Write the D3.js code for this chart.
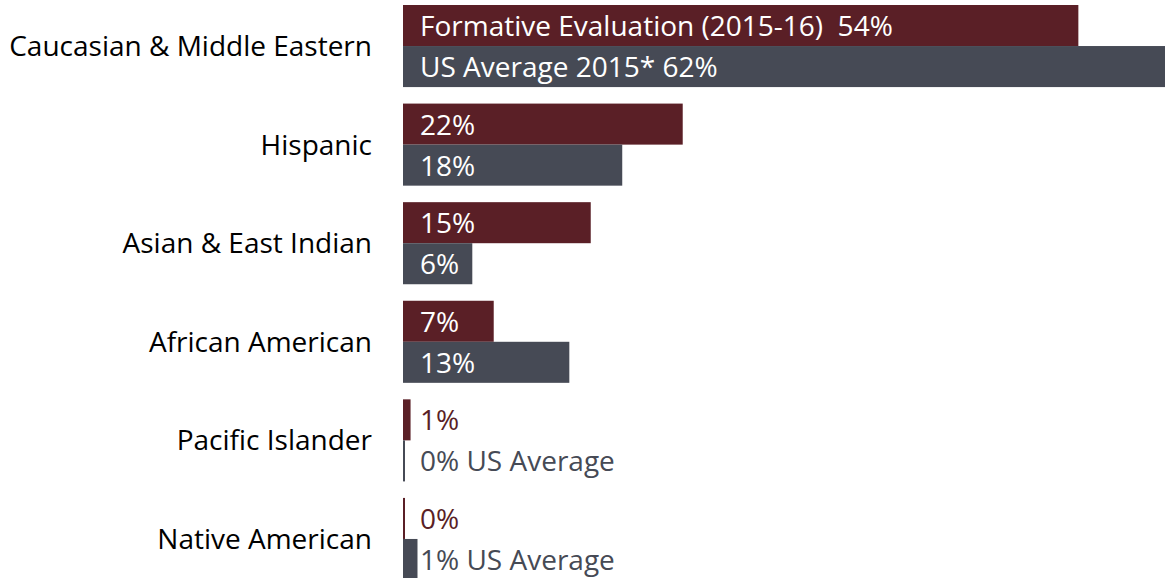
<!DOCTYPE html>
<html>
<head>
<meta charset="utf-8">
<script src="https://cdn.jsdelivr.net/npm/d3@7"></script>
<style>
  body { margin: 0; background: #fff; }
  svg { display: block; font-family: "Open Sans", sans-serif; }
  text { white-space: pre; }
</style>
</head>
<body>
<script>
var categories = ["Caucasian & Middle Eastern", "Hispanic", "Asian & East Indian",
                  "African American", "Pacific Islander", "Native American"];
var seriesNames = ["formative", "usAverage"];

// bar values in percent
var formative = [53.6, 22.2, 14.9, 7.2, 0.6, 0];
var usAverage = [62.0, 17.4, 5.5, 13.2, 0, 1.15];

// labels as printed on the chart
var formativeLabels = ["Formative Evaluation (2015-16)  54%", "22%", "15%", "7%", "1%", "0%"];
var usAverageLabels = ["US Average 2015* 62%", "18%", "6%", "13%", "0% US Average", "1% US Average"];

var colors = { formative: "#5a1f26", usAverage: "#464a55" };

var width = 1165, height = 578;

var svg = d3.select("body")
            .append("svg")
            .attr("width", width)
            .attr("height", height);

var y = d3.scaleBand()
          .domain(categories)
          .range([5, 580])
          .paddingInner(0.1675)
          .paddingOuter(0);

var ySub = d3.scaleBand()
             .domain(seriesNames)
             .range([0, y.bandwidth()]);

var x = d3.scaleLinear()
          .domain([0, 100])
          .range([403, 403 + 1260]);

var rows = categories.map(function(c, i) {
    return {
        category: c,
        bars: [
            { key: "formative", value: formative[i], label: formativeLabels[i] },
            { key: "usAverage", value: usAverage[i], label: usAverageLabels[i] }
        ]
    };
});

var group = svg.selectAll("g.row")
               .data(rows)
               .enter()
               .append("g")
               .attr("class", "row")
               .attr("transform", function(d) { return "translate(0," + y(d.category) + ")"; });

// category names, right aligned left of the bars
group.append("text")
     .attr("x", 372)
     .attr("y", y.bandwidth() / 2 + 10)
     .attr("text-anchor", "end")
     .attr("font-size", 28)
     .attr("fill", "#000")
     .text(function(d) { return d.category; });

var bar = group.selectAll("g.bar")
               .data(function(d) { return d.bars; })
               .enter()
               .append("g")
               .attr("class", "bar");

bar.append("rect")
   .attr("x", x(0))
   .attr("y", function(d) { return ySub(d.key); })
   .attr("width", function(d) { return Math.max(2, x(d.value) - x(0)); })
   .attr("height", ySub.bandwidth())
   .attr("fill", function(d) { return colors[d.key]; });

bar.append("text")
   .attr("x", 420)
   .attr("y", function(d) { return ySub(d.key) + ySub.bandwidth() / 2 + 10.5; })
   .attr("font-size", 28)
   .attr("fill", function(d) {
       return (x(d.value) - x(0)) > 60 ? "#fff" : colors[d.key];
   })
   .text(function(d) { return d.label; });
</script>
</body>
</html>
